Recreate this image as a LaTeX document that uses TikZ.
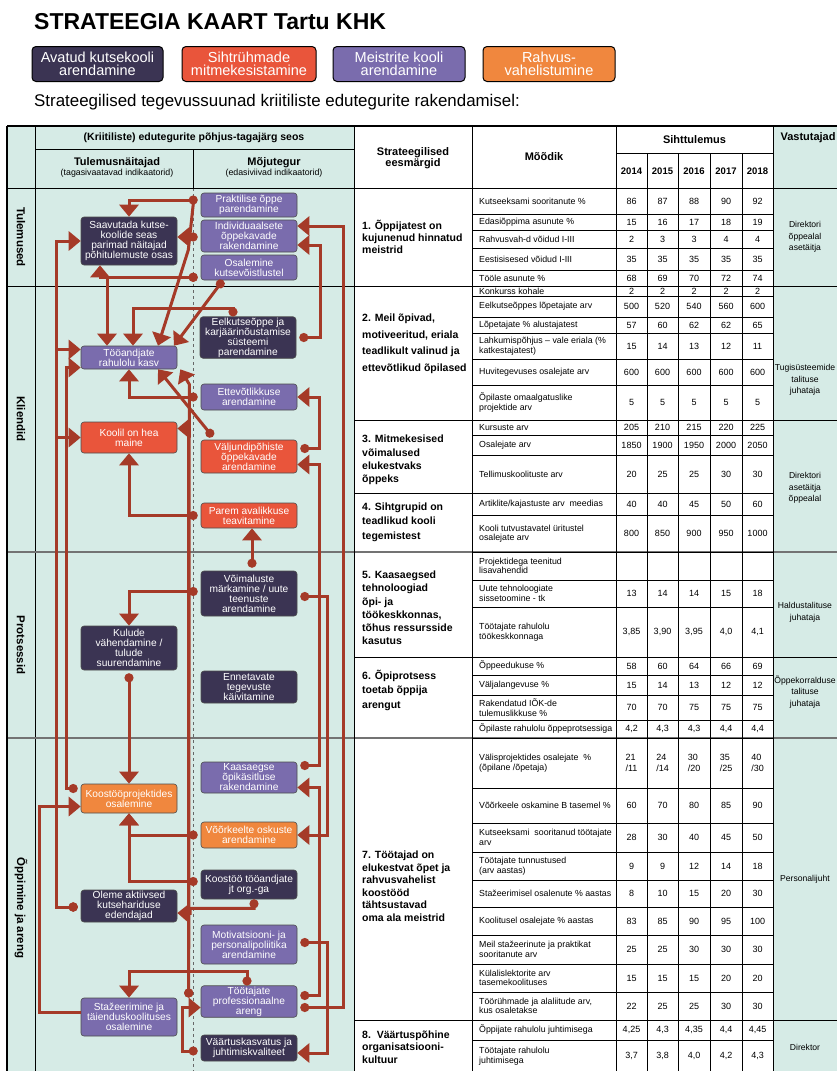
\documentclass[tikz,border=0pt]{standalone}
\usepackage{fontspec}
\setmainfont{Liberation Sans}
\usepackage{tikz}
\usetikzlibrary{arrows.meta}
\definecolor{cnavy}{RGB}{59,52,83}
\definecolor{clilac}{RGB}{122,108,173}
\definecolor{cred}{RGB}{233,85,59}
\definecolor{corange}{RGB}{240,135,62}
\definecolor{clink}{RGB}{165,58,40}
\definecolor{cteal}{RGB}{214,235,230}
\newcommand{\fsz}[2]{\fontsize{#1}{#2}\selectfont}
\newcommand{\metricrow}[8]{% one row of the target table
  \draw[cellline] (472,#2) -- (773,#2);
  \node[metric] (m#1) at (479,{(#1+#2)/2}) {#3};
  \node[val] (v#1a) at (631.5,{(#1+#2)/2}) {#4};
  \node[val] (v#1b) at (662.5,{(#1+#2)/2}) {#5};
  \node[val] (v#1c) at (694,{(#1+#2)/2}) {#6};
  \node[val] (v#1d) at (726,{(#1+#2)/2}) {#7};
  \node[val] (v#1e) at (757.5,{(#1+#2)/2}) {#8};
}

\begin{document}
\begin{tikzpicture}[
    % GLOBAL CFG
    x=1pt, y=-1pt,
    >={Triangle[length=12pt,width=19pt]},
    % Styles
    box/.style={% strategy boxes
      rectangle,
      rounded corners=3pt,
      draw=black!70,
      line width=0.6pt,
      text=white,
      align=center,
      inner sep=1pt,
      minimum width=96pt,
      font=\fsz{10.2}{10}
    },
    navybox/.style={box, fill=cnavy},
    lilacbox/.style={box, fill=clilac},
    redbox/.style={box, fill=cred},
    orangebox/.style={box, fill=corange},
    legend/.style={% colour key on top
      rectangle,
      rounded corners=4pt,
      draw=black,
      line width=1pt,
      text=white,
      align=center,
      inner sep=1pt,
      minimum height=35pt,
      font=\fsz{14.5}{13.5}
    },
    catlabel/.style={rotate=-90, font=\bfseries\fsz{11.5}{12}},
    hdr/.style={align=center, font=\bfseries\fsz{11}{10.5}},
    goal/.style={anchor=west, align=left, inner sep=0pt, font=\bfseries\fsz{10.5}{#1}},
    goal/.default=13,
    metric/.style={anchor=west, align=left, inner sep=0pt, font=\fsz{8.8}{9.5}},
    val/.style={align=left, inner sep=0pt, font=\fsz{9}{10.5}},
    resp/.style={align=center, inner sep=0pt, font=\fsz{8.6}{11.7}},
    outerline/.style={line width=1.6pt, black},
    cellline/.style={line width=0.7pt, black},
    rowsep/.style={line width=1.8pt, black!55},
    dashline/.style={line width=0.6pt, black!60, dashed},
    arrowlink/.style={% link with a dot at its source
      draw=clink,
      line width=3pt,
      {Circle[length=9pt]}->
    },
    arrowplain/.style={% link without a dot
      draw=clink,
      line width=3pt,
      ->
    }
  ]

  \useasboundingbox (0,0) rectangle (837,1071);
  \clip (0,0) rectangle (837,1071);
  \fill[white] (0,0) rectangle (837,1071);

  % Title and colour key
  \node[anchor=base west, inner sep=0pt, font=\bfseries\fsz{23}{24}] (title) at (34,29) {STRATEEGIA KAART Tartu KHK};
  \node[legend, fill=cnavy, minimum width=131pt] (leg1) at (97.5,64) {Avatud kutsekooli\\arendamine};
  \node[legend, fill=cred, minimum width=134pt] (leg2) at (249,64) {Sihtrühmade\\mitmekesistamine};
  \node[legend, fill=clilac, minimum width=132pt] (leg3) at (399,64) {Meistrite kooli\\arendamine};
  \node[legend, fill=corange, minimum width=132pt] (leg4) at (549,64) {Rahvus-\\vahelistumine};
  \node[anchor=base west, inner sep=0pt, font=\fsz{16.9}{17}] (subtitle) at (34,106) {Strateegilised tegevussuunad kriitiliste edutegurite rakendamisel:};

  % Backgrounds
  \fill[cteal] (7,126) rectangle (354,1071);
  \fill[cteal] (773,126) rectangle (837,1071);

  % Grid of the cause-effect part
  \draw[cellline] (35,126) -- (35,1071);
  \draw[cellline] (35,149) -- (354,149);
  \draw[cellline] (193,149) -- (193,188);
  \draw[dashline] (193,188) -- (193,1071);
  \draw[cellline] (7,188) -- (837,188);
  \draw[cellline] (7,286) -- (837,286);
  \draw[rowsep] (7,552) -- (837,552);
  \draw[rowsep] (7,738) -- (837,738);

  % Grid of the target table
  \draw[cellline] (354,126) -- (354,1071);
  \draw[cellline] (472,126) -- (472,1071);
  \draw[cellline] (616,126) -- (616,1071);
  \draw[cellline] (773,126) -- (773,1071);
  \draw[cellline] (616,153) -- (773,153);
  \draw[cellline] (647,153) -- (647,1071);
  \draw[cellline] (678,153) -- (678,1071);
  \draw[cellline] (710,153) -- (710,1071);
  \draw[cellline] (742,153) -- (742,1071);
  \draw[cellline] (354,420) -- (837,420);
  \draw[cellline] (354,493) -- (773,493);
  \draw[cellline] (354,657) -- (837,657);
  \draw[cellline] (354,1020) -- (837,1020);
  \draw[outerline] (7,126) -- (837,126);
  \draw[outerline] (7,126) -- (7,1071);

  % Headers
  \node[font=\bfseries\fsz{10.5}{11}] (hdrcause) at (194,138) {(Kriitiliste) edutegurite põhjus-tagajärg seos};
  \node[font=\bfseries\fsz{11}{11}] (hdrlag) at (117,163) {Tulemusnäitajad};
  \node[font=\fsz{8.8}{9}] (hdrlagsub) at (117,173.5) {(tagasivaatavad indikaatorid)};
  \node[font=\bfseries\fsz{11}{11}] (hdrlead) at (274,163) {Mõjutegur};
  \node[font=\fsz{8.8}{9}] (hdrleadsub) at (274,173.5) {(edasiviivad indikaatorid)};
  \node[hdr] (hdrgoal) at (413,158) {Strateegilised\\eesmärgid};
  \node[hdr] (hdrmeas) at (544,157) {Mõõdik};
  \node[hdr] (hdrtarget) at (694.5,139.5) {Sihttulemus};
  \node[hdr, font=\bfseries\fsz{9.5}{10}] (y2014) at (631.5,171) {2014};
  \node[hdr, font=\bfseries\fsz{9.5}{10}] (y2015) at (662.5,171) {2015};
  \node[hdr, font=\bfseries\fsz{9.5}{10}] (y2016) at (694,171) {2016};
  \node[hdr, font=\bfseries\fsz{9.5}{10}] (y2017) at (726,171) {2017};
  \node[hdr, font=\bfseries\fsz{9.5}{10}] (y2018) at (757.5,171) {2018};
  \node[hdr, anchor=west] (hdrresp) at (777,138) {Vastutajad};

  % Perspectives
  \node[catlabel] (catres) at (21,237) {Tulemused};
  \node[catlabel] (catcli) at (21,419) {Kliendid};
  \node[catlabel] (catproc) at (21,645) {Protsessid};
  \node[catlabel] (catlearn) at (21,908) {Õppimine ja areng};

  % Strategic goals
  \node[goal=12] (goal1) at (362,237) {1. Õppijatest on\\kujunenud hinnatud\\meistrid};
  \node[goal=16.5] (goal2) at (362,344) {2. Meil õpivad,\\motiveeritud, eriala\\teadlikult valinud ja\\ettevõtlikud õpilased};
  \node[goal=13.3] (goal3) at (362,460) {3. Mitmekesised\\võimalused\\elukestvaks\\õppeks};
  \node[goal=14.5] (goal4) at (362,522) {4. Sihtgrupid on\\teadlikud kooli\\tegemistest};
  \node[goal=13.2] (goal5) at (362,608) {5. Kaasaegsed\\tehnoloogiad\\õpi- ja\\töökeskkonnas,\\tõhus ressursside\\kasutus};
  \node[goal=14.5] (goal6) at (362,690) {6. Õpiprotsess\\toetab õppija\\arengut};
  \node[goal=12.5] (goal7) at (362,886) {7. Töötajad on\\elukestvat õpet ja\\rahvusvahelist\\koostööd\\tähtsustavad\\oma ala meistrid};
  \node[goal=12.5] (goal8) at (362,1047) {8.\ \ Väärtuspõhine\\organisatsiooni-\\kultuur};

  % Measures and targets
  \metricrow{188}{214}{Kutseeksami sooritanute \%}{86}{87}{88}{90}{92}
  \metricrow{214}{230}{Edasiõppima asunute \%}{15}{16}{17}{18}{19}
  \metricrow{230}{248}{Rahvusvah-d võidud I-III}{2}{3}{3}{4}{4}
  \metricrow{248}{270}{Eestisisesed võidud I-III}{35}{35}{35}{35}{35}
  \metricrow{270}{286}{Tööle asunute \%}{68}{69}{70}{72}{74}
  \metricrow{286}{296}{Konkurss kohale}{2}{2}{2}{2}{2}
  \metricrow{296}{317}{Eelkutseõppes lõpetajate arv}{500}{520}{540}{560}{600}
  \metricrow{317}{333}{Lõpetajate \% alustajatest}{57}{60}{62}{62}{65}
  \metricrow{333}{359}{Lahkumispõhjus – vale eriala (\%\\katkestajatest)}{15}{14}{13}{12}{11}
  \metricrow{359}{385}{Huvitegevuses osalejate arv}{600}{600}{600}{600}{600}
  \metricrow{385}{420}{Õpilaste omaalgatuslike\\projektide arv}{5}{5}{5}{5}{5}
  \metricrow{420}{435}{Kursuste arv}{205}{210}{215}{220}{225}
  \metricrow{435}{455}{Osalejate arv}{1850}{1900}{1950}{2000}{2050}
  \metricrow{455}{493}{Tellimuskoolituste arv}{20}{25}{25}{30}{30}
  \metricrow{493}{515}{Artiklite/kajastuste arv\ \ meedias}{40}{40}{45}{50}{60}
  \metricrow{515}{552}{Kooli tutvustavatel üritustel\\osalejate arv}{800}{850}{900}{950}{1000}
  \metricrow{552}{580}{Projektidega teenitud\\lisavahendid}{}{}{}{}{}
  \metricrow{580}{607}{Uute tehnoloogiate\\sissetoomine - tk}{13}{14}{14}{15}{18}
  \metricrow{607}{657}{Töötajate rahulolu\\töökeskkonnaga}{3,85}{3,90}{3,95}{4,0}{4,1}
  \metricrow{657}{675}{Õppeedukuse \%}{58}{60}{64}{66}{69}
  \metricrow{675}{695}{Väljalangevuse \%}{15}{14}{13}{12}{12}
  \metricrow{695}{720}{Rakendatud IÕK-de\\tulemuslikkuse \%}{70}{70}{75}{75}{75}
  \metricrow{720}{738}{Õpilaste rahulolu õppeprotsessiga}{4,2}{4,3}{4,3}{4,4}{4,4}
  \metricrow{738}{788}{Välisprojektides osalejate\ \ \%\\(õpilane /õpetaja)}{21\\/11}{24\\/14}{30\\/20}{35\\/25}{40\\/30}
  \metricrow{788}{823}{Võõrkeele oskamine B tasemel \%}{60}{70}{80}{85}{90}
  \metricrow{823}{852}{Kutseeksami\ \ sooritanud töötajate\\arv}{28}{30}{40}{45}{50}
  \metricrow{852}{880}{Töötajate tunnustused\\(arv aastas)}{9}{9}{12}{14}{18}
  \metricrow{880}{907}{Stažeerimisel osalenute \% aastas}{8}{10}{15}{20}{30}
  \metricrow{907}{935}{Koolitusel osalejate \% aastas}{83}{85}{90}{95}{100}
  \metricrow{935}{964}{Meil stažeerinute ja praktikat\\sooritanute arv}{25}{25}{30}{30}{30}
  \metricrow{964}{992}{Külalislektorite arv\\tasemekoolituses}{15}{15}{15}{20}{20}
  \metricrow{992}{1020}{Töörühmade ja alaliitude arv,\\kus osaletakse}{22}{25}{25}{30}{30}
  \metricrow{1020}{1040}{Õppijate rahulolu juhtimisega}{4,25}{4,3}{4,35}{4,4}{4,45}
  \metricrow{1040}{1072}{Töötajate rahulolu\\juhtimisega}{3,7}{3,8}{4,0}{4,2}{4,3}

  % Responsible persons
  \node[resp] (resp1) at (805,237) {Direktori\\õppealal\\asetäitja};
  \node[resp] (resp2) at (805,380) {Tugisüsteemide\\talituse\\juhataja};
  \node[resp] (resp3) at (805,488) {Direktori\\asetäitja\\õppealal};
  \node[resp] (resp4) at (805,612) {Haldustalituse\\juhataja};
  \node[resp] (resp5) at (805,692) {Õppekorralduse\\talituse\\juhataja};
  \node[resp] (resp6) at (805,879) {Personalijuht};
  \node[resp] (resp7) at (805,1047) {Direktor};

  % Lagging indicators
  \node[navybox, minimum height=48pt] (saav) at (129,241) {Saavutada kutse-\\koolide seas\\parimad näitajad\\põhitulemuste osas};
  \node[lilacbox, minimum height=23pt] (tooand) at (129,357.5) {Tööandjate\\rahulolu kasv};
  \node[redbox, minimum height=31pt] (maine) at (129,437.5) {Koolil on hea\\maine};
  \node[navybox, minimum height=44pt] (kulud) at (129,648) {Kulude\\vähendamine /\\tulude\\suurendamine};
  \node[orangebox, minimum height=29pt] (projekt) at (129,798.5) {Koostööprojektides\\osalemine};
  \node[navybox, minimum height=32pt] (edend) at (129,906) {Oleme aktiivsed\\kutsehariduse\\edendajad};
  \node[lilacbox, minimum height=38pt] (staz) at (129,1017) {Stažeerimine ja\\täienduskoolituses\\osalemine};

  % Leading indicators
  \node[lilacbox, minimum height=24pt] (prakt) at (249,205) {Praktilise õppe\\parendamine};
  \node[lilacbox, minimum height=32pt] (indiv) at (249,236) {Individuaalsete\\õppekavade\\rakendamine};
  \node[lilacbox, minimum height=25pt] (osal) at (249,267.5) {Osalemine\\kutsevõistlustel};
  \node[navybox, minimum height=41pt] (eelk) at (248,337.5) {Eelkutseõppe ja\\karjäärinõustamise\\süsteemi\\parendamine};
  \node[lilacbox, minimum height=26pt] (ettev) at (249,397) {Ettevõtlikkuse\\arendamine};
  \node[redbox, minimum height=33pt] (valjund) at (249,456.5) {Väljundipõhiste\\õppekavade\\arendamine};
  \node[redbox, minimum height=25pt] (avalik) at (249,515.5) {Parem avalikkuse\\teavitamine};
  \node[navybox, minimum height=45pt] (voim) at (249,593.5) {Võimaluste\\märkamine / uute\\teenuste\\arendamine};
  \node[navybox, minimum height=32pt] (ennet) at (249,687) {Ennetavate\\tegevuste\\käivitamine};
  \node[lilacbox, minimum height=31pt] (kaasaeg) at (249,777.5) {Kaasaegse\\õpikäsitluse\\rakendamine};
  \node[orangebox, minimum height=26pt] (voork) at (249,835) {Võõrkeelte oskuste\\arendamine};
  \node[navybox, minimum height=29pt] (koost) at (249,884.5) {Koostöö tööandjate\\jt org.-ga};
  \node[lilacbox, minimum height=39pt] (motiv) at (249,944.5) {Motivatsiooni- ja\\personalipoliitika\\arendamine};
  \node[lilacbox, minimum height=31pt] (tootaj) at (249,1001.5) {Töötajate\\professionaalne\\areng};
  \node[navybox, minimum height=26pt] (vaartus) at (249,1048) {Väärtuskasvatus ja\\juhtimiskvaliteet};

  % Cause-effect links
  \draw[arrowlink] ([shift={(-3,-5)}]prakt.west) -| (saav.north);
  \draw[arrowplain] ([shift={(-7,-5)}]prakt.west) -- ([shift={(11,9)}]saav.east) -- ([shift={(29,0)}]tooand.north);
  \draw[arrowlink] ([shift={(-3,1)}]indiv.west) -- ([shift={(0,-4)}]saav.east);
  \draw[arrowlink] ([shift={(-3,-3)}]osal.south west) -| ([shift={(-29,0)}]saav.south);
  \draw[arrowlink] ([shift={(-3,-3)}]osal.south west) -| ([shift={(-22,0)}]tooand.north);
  \draw[arrowlink] ([shift={(-26,0)}]osal.south) -- ([shift={(45,0)}]tooand.north);
  \draw[arrowlink] ([shift={(-15,0)}]eelk.north) -- ++(0,-8) -| ([shift={(4,0)}]tooand.north);
  \draw[arrowlink] ([shift={(-3,0)}]ettev.west) -| (tooand.south);
  \draw[arrowlink] ([shift={(12,-3)}]valjund.north west) -- ([shift={(29,0)}]tooand.south);
  \draw[arrowlink] ([shift={(-12,-4)}]tootaj.west) |- ([shift={(0,-9)}]maine.east);
  \draw[arrowlink] ([shift={(-12,-4)}]tootaj.west) -- ([shift={(12,15)}]tooand.south east) -- ([shift={(3,0)}]tooand.south east);
  \draw[arrowlink] ([shift={(-3,0)}]avalik.west) -| (maine.south);
  \draw[arrowlink] ([shift={(3,-3)}]voim.north) -- ([shift={(3,0)}]avalik.south);
  \draw[arrowlink] ([shift={(-3,-2)}]voim.west) -| (kulud.north);
  \draw[arrowlink] ([shift={(3,3)}]voim.east) -| ([shift={(30,0)}]voork.east) -- (voork.east);
  \draw[arrowlink] ([shift={(0,3)}]kulud.south) -- (projekt.north);
  \draw[arrowlink] ([shift={(-3,0)}]voork.west) -| (projekt.south);
  \draw[arrowlink] ([shift={(-3,-3)}]koost.west) -| (projekt.south);
  \draw[arrowlink] ([shift={(5,0)}]koost.south) -- ++(0,9) -- ++(-64,0) -- ++(0,5) -- ([shift={(0,7)}]edend.east);
  \draw[arrowlink] ([shift={(-3,1)}]edend.west) -| ([shift={(-24,0)}]saav.west) -- (saav.west);
  \draw[arrowlink] ([shift={(-3,1)}]edend.west) -| ([shift={(-24,-8)}]tooand.west) -- ([shift={(0,-8)}]tooand.west);
  \draw[arrowlink] ([shift={(-3,1)}]edend.west) -| ([shift={(-24,0)}]maine.west) -- (maine.west);
  \draw[arrowlink] ([shift={(-3,-10)}]projekt.west) -| ([shift={(-14,10)}]tooand.west) -- ([shift={(0,10)}]tooand.west);
  \draw[arrowplain] ([shift={(0,-5)}]staz.west) -| ([shift={(-41,8)}]projekt.west) -- ([shift={(0,8)}]projekt.west);
  \draw[arrowlink] ([shift={(-2,0)}]tootaj.north) -- ++(0,-14) -| (staz.north);
  \draw[arrowlink] ([shift={(-3,3)}]vaartus.west) -- ++(-15,0) |- ([shift={(0,6)}]tootaj.west);
  \draw[arrowlink] ([shift={(3,0)}]eelk.east) -| ([shift={(23,9)}]indiv.east) -- ([shift={(0,9)}]indiv.east);
  \draw[arrowlink] ([shift={(3,6)}]tootaj.east) -| ([shift={(46,-10)}]indiv.east) -- ([shift={(0,-10)}]indiv.east);
  \draw[arrowlink] ([shift={(3,-8)}]valjund.east) -| ([shift={(22,0)}]ettev.east) -- (ettev.east);
  \draw[arrowlink] ([shift={(3,-12)}]kaasaeg.east) -| ([shift={(22,8)}]valjund.east) -- ([shift={(0,8)}]valjund.east);
  \draw[arrowlink] ([shift={(3,-6)}]tootaj.east) -| ([shift={(22,10)}]kaasaeg.east) -- ([shift={(0,10)}]kaasaeg.east);
  \draw[arrowlink] ([shift={(3,-2)}]motiv.east) -| ([shift={(30,5)}]vaartus.east) -- ([shift={(0,5)}]vaartus.east);
\end{tikzpicture}
\end{document}
